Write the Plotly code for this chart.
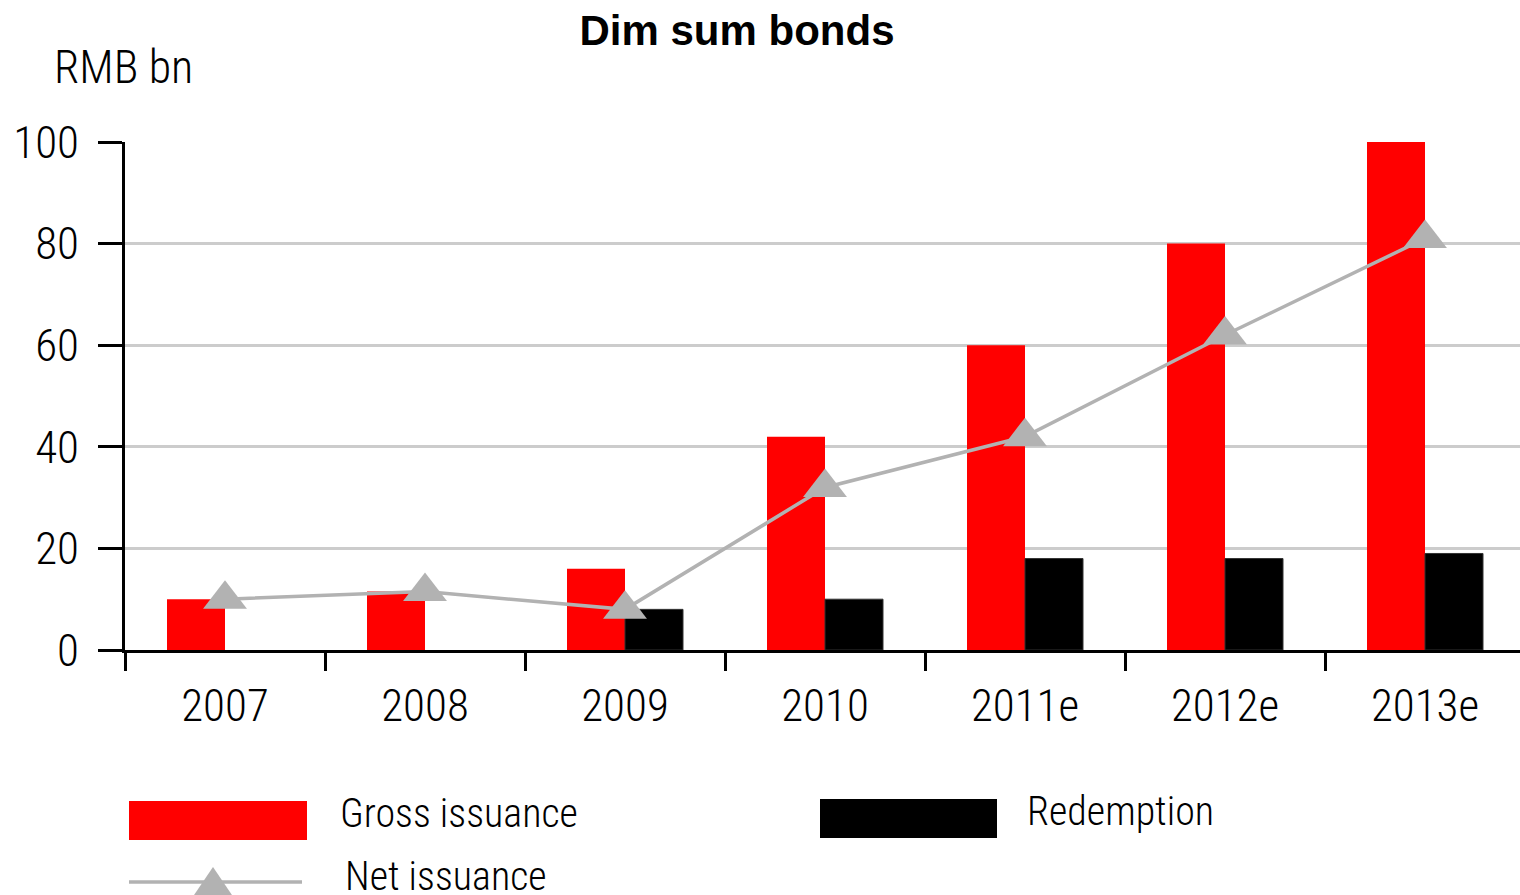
import plotly.graph_objects as go

# Dim sum bond issuance, RMB bn
years = ["2007", "2008", "2009", "2010", "2011e", "2012e", "2013e"]
gross_issuance = [10, 11.5, 16, 42, 60, 80, 100]
redemption = [None, None, 8, 10, 18, 18, 19]
net_issuance = [10, 11.5, 8, 32, 42, 62, 81]
y_ticks = [0, 20, 40, 60, 80, 100]

RED = "#ff0000"
BLACK = "#000000"
GREY = "#b2b2b2"
GRID = "#cccccc"
NARROW = ("Liberation Sans Narrow, Arial Narrow, Roboto Condensed, "
          "DejaVu Sans Condensed, Liberation Sans, sans-serif")

W, H = 1520, 895
L, T = 125, 142          # plot-area left / top in px
PLOT_W = W - L
ZERO_Y = 650             # px row of the x axis
PLOT_H = ZERO_Y - T


def px(x):
    return (x - L) / PLOT_W


def py(y):
    return (ZERO_Y - y) / PLOT_H


def narrow(size):
    return dict(family=NARROW, size=size, color="black", weight=300)


fig = go.Figure()
fig.add_trace(go.Bar(x=years, y=gross_issuance, name="Gross issuance",
                     marker=dict(color=RED, line=dict(width=0))))
fig.add_trace(go.Bar(x=years, y=redemption, name="Redemption",
                     marker=dict(color=BLACK, line=dict(color="#333333", width=1))))
fig.add_trace(go.Scatter(x=years, y=net_issuance, name="Net issuance",
                         mode="lines+markers",
                         line=dict(color=GREY, width=3.5),
                         marker=dict(symbol="triangle-up", size=38, color=GREY)))

fig.update_layout(
    width=W, height=H,
    margin=dict(l=L, r=0, t=T, b=H - ZERO_Y),
    paper_bgcolor="white", plot_bgcolor="white",
    barmode="group", bargap=0.42, bargroupgap=0,
    showlegend=False,
    font=narrow(44),
    title=dict(text="<b>Dim sum bonds</b>", x=737 / W, xanchor="center",
               y=1 - 30 / H, yanchor="middle", yref="container",
               font=dict(family="Liberation Sans, Arial, sans-serif", size=42, color="black")),
)

fig.update_xaxes(
    type="category", range=[-0.5, -0.5 + PLOT_W / 200.0],
    showline=True, linecolor=BLACK, linewidth=3,
    ticks="outside", tickson="boundaries", ticklen=18, tickwidth=3, tickcolor=BLACK,
    showgrid=False, tickfont=narrow(45), ticklabelstandoff=14,
)
fig.update_yaxes(
    range=[0, 100], tickvals=y_ticks,
    showline=True, linecolor=BLACK, linewidth=3,
    ticks="outside", ticklen=24, tickwidth=3, tickcolor=BLACK,
    showgrid=True, gridcolor=GRID, gridwidth=3, zeroline=False,
    tickfont=narrow(45), ticklabelstandoff=10,
)

# y-axis unit label
fig.add_annotation(text="RMB bn", xref="paper", yref="paper", x=px(52), y=py(67),
                   xanchor="left", yanchor="middle", showarrow=False,
                   font=narrow(46))

# legend drawn below the plot
fig.add_shape(type="rect", xref="paper", yref="paper",
              x0=px(129), x1=px(307), y0=py(801), y1=py(840),
              fillcolor=RED, line=dict(width=0))
fig.add_shape(type="rect", xref="paper", yref="paper",
              x0=px(820), x1=px(997), y0=py(799), y1=py(838),
              fillcolor=BLACK, line=dict(width=0))
fig.add_shape(type="line", xref="paper", yref="paper",
              x0=px(129), x1=px(302), y0=py(882), y1=py(882),
              line=dict(color=GREY, width=3.5))
fig.add_shape(type="path", xref="paper", yref="paper",
              path=f"M {px(192)},{py(898)} L {px(234)},{py(898)} L {px(213)},{py(867)} Z",
              fillcolor=GREY, line=dict(width=0))

for label, lx, ly in [("Gross issuance", 338, 814), ("Redemption", 1025, 812),
                      ("Net issuance", 343, 876)]:
    fig.add_annotation(text=label, xref="paper", yref="paper", x=px(lx), y=py(ly),
                       xanchor="left", yanchor="middle", showarrow=False,
                       font=narrow(40))

fig.write_html("out.html")
